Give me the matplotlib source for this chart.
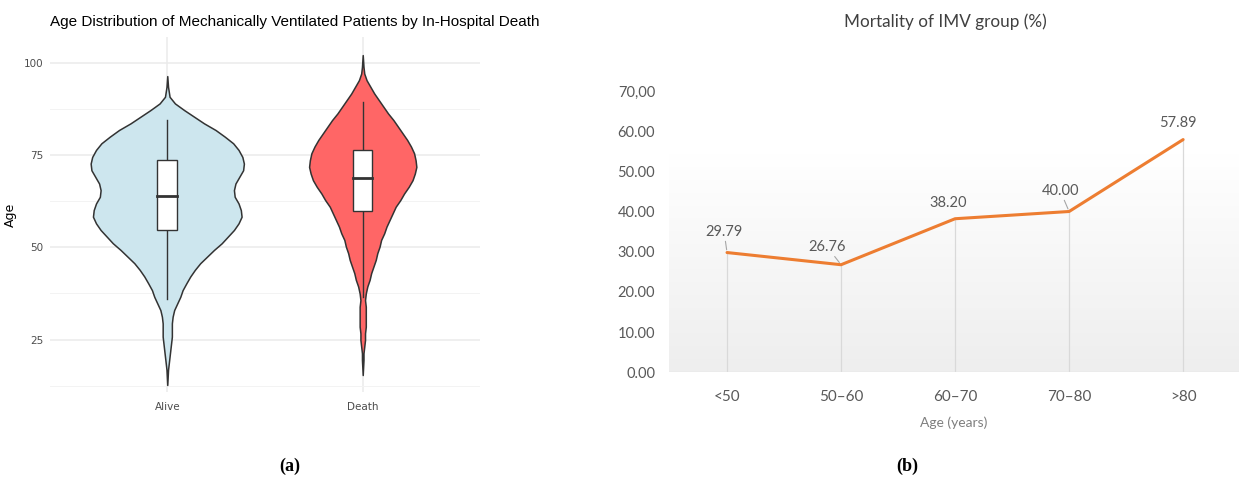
import numpy as np
import matplotlib.pyplot as plt
from matplotlib.patches import Rectangle
from matplotlib.colors import LinearSegmentedColormap

# ---- panel (a): violin outlines ----
groups = ['Alive', 'Death']

alive_age = [96.4, 93.5, 90.8, 89.0, 87.2, 85.4, 83.6, 81.8, 80.0, 78.2, 76.4, 74.5,
             72.7, 70.9, 69.1, 67.3, 65.5, 63.7, 61.9, 60.1, 58.3, 56.5, 54.7, 52.9,
             51.1, 49.3, 47.5, 45.7, 43.9, 42.1, 40.3, 38.4, 36.6, 34.8, 33.0, 31.2,
             29.4, 27.6, 25.8, 24.0, 22.2, 20.4, 18.6, 16.8, 12.7]
alive_dens = [0.00, 0.01, 0.03, 0.10, 0.22, 0.35, 0.48, 0.63, 0.75, 0.86, 0.93, 0.98,
              1.00, 0.99, 0.94, 0.89, 0.87, 0.88, 0.93, 0.96, 0.97, 0.93, 0.87, 0.79,
              0.71, 0.61, 0.52, 0.43, 0.36, 0.30, 0.25, 0.20, 0.17, 0.13, 0.09, 0.07,
              0.06, 0.06, 0.06, 0.05, 0.04, 0.03, 0.02, 0.01, 0.00]

death_age = [102.1, 98.9, 97.1, 95.3, 93.5, 91.7, 89.9, 88.1, 86.3, 84.5, 82.7, 80.9,
             79.1, 77.3, 75.5, 73.6, 71.8, 70.0, 68.2, 66.4, 64.6, 62.8, 61.0, 59.2,
             57.4, 55.6, 53.8, 52.0, 50.2, 48.4, 46.6, 44.8, 43.0, 41.2, 39.4, 37.5,
             35.7, 33.9, 32.1, 30.3, 28.5, 26.7, 24.9, 23.1, 21.3, 19.5, 15.4]
death_dens = [0.00, 0.01, 0.02, 0.05, 0.10, 0.15, 0.21, 0.27, 0.33, 0.40, 0.46, 0.52,
              0.58, 0.63, 0.67, 0.69, 0.70, 0.68, 0.65, 0.60, 0.54, 0.49, 0.43, 0.39,
              0.35, 0.31, 0.28, 0.24, 0.22, 0.19, 0.17, 0.14, 0.11, 0.09, 0.06, 0.04,
              0.03, 0.04, 0.04, 0.04, 0.04, 0.03, 0.03, 0.02, 0.01, 0.01, 0.00]

# q1, median, q3, lower whisker, upper whisker
alive_box = [54.7, 63.9, 73.6, 35.9, 84.5]
death_box = [59.8, 68.9, 76.4, 36.6, 89.4]

# ---- panel (b): mortality by age group ----
age_groups = ['<50', '50\u201360', '60\u201370', '70\u201380', '>80']
mortality = [29.79, 26.76, 38.20, 40.00, 57.89]
ytick_vals = [0, 10, 20, 30, 40, 50, 60, 70]
ytick_labels = ['0.00', '10.00', '20.00', '30.00', '40.00', '50.00', '60.00', '70,00']

W, H = 1239, 478
fig = plt.figure(figsize=(W / 100, H / 100), dpi=100)


def fx(px):
    return px / W


def fy(py):
    return 1 - py / H


# ---------------- (a) ----------------
ax = fig.add_axes([fx(50), fy(392), fx(430), (392 - 37) / H])
ax.set_xlim(0.4, 2.6)
ax.set_ylim(10.8, 107)

def violin(pos, ages, dens, color, box):
    w = np.array(dens) * 0.392
    ax.fill_betweenx(ages, pos - w, pos + w, facecolor=color, edgecolor='#333333',
                     lw=1.1, zorder=2)
    q1, med, q3, lo, hi = box
    ax.plot([pos, pos], [lo, q1], color='#333333', lw=1.0, zorder=3)
    ax.plot([pos, pos], [q3, hi], color='#333333', lw=1.0, zorder=3)
    ax.add_patch(Rectangle((pos - 0.05, q1), 0.1, q3 - q1, facecolor='white',
                           edgecolor='#333333', lw=1.0, zorder=3))
    ax.plot([pos - 0.05, pos + 0.05], [med, med], color='#333333', lw=2.0, zorder=4)

violin(1, alive_age, alive_dens, '#cde6ee', alive_box)
violin(2, death_age, death_dens, '#ff6666', death_box)

ax.set_xticks([1, 2], groups)
ax.set_yticks([25, 50, 75, 100])
ax.set_yticks([12.5, 37.5, 62.5, 87.5], minor=True)
ax.grid(which='major', color='#ebebeb', lw=1.1, zorder=0)
ax.grid(which='minor', axis='y', color='#f3f3f3', lw=0.7, zorder=0)
ax.set_axisbelow(True)
for s in ax.spines.values():
    s.set_visible(False)
ax.tick_params(which='both', length=0)
ax.tick_params(axis='y', pad=5, labelsize=7.5, labelcolor='#4d4d4d')
ax.tick_params(axis='x', pad=7, labelsize=7.5, labelcolor='#4d4d4d')
ax.set_ylabel('Age', fontsize=9)
ax.yaxis.set_label_coords(-33 / 430, 0.5)
fig.text(fx(50), fy(22), 'Age Distribution of Mechanically Ventilated Patients by In-Hospital Death',
         ha='left', va='center', fontsize=11, family='Liberation Sans')

# ---------------- (b) ----------------
lato = 'Lato'
ax2 = fig.add_axes([fx(669), fy(372.3), 1 - fx(669), (372.3 - 90.9) / H])
x = np.arange(len(age_groups))
xl = (-0.509, 4.49)

cmap = LinearSegmentedColormap.from_list('bg', ['#eeeeee', '#ffffff'])
ax2.imshow(np.linspace(0, 1, 256).reshape(-1, 1), cmap=cmap, origin='lower',
           extent=(xl[0], xl[1], 0, 54), aspect='auto', zorder=0)
ax2.vlines(x, 0, mortality, color='#d9d9d9', lw=0.9, zorder=1)
ax2.plot(x, mortality, color='#ed7d31', lw=2.2, zorder=3, solid_capstyle='round')

offsets = [(-3, 21), (-14, 18), (-7, 16), (-9, 21), (-5, 17)]
leaders = [True, True, False, True, False]
for xi, v, off, lead in zip(x, mortality, offsets, leaders):
    props = dict(arrowstyle='-', color='#a6a6a6', lw=0.8, shrinkA=0, shrinkB=2) if lead else None
    ax2.annotate(f'{v:.2f}', xy=(xi, v), xytext=off, textcoords='offset pixels',
                 ha='center', va='center', fontsize=10.5, color='#595959', family=lato,
                 arrowprops=props, zorder=4)

ax2.set_xlim(*xl)
ax2.set_ylim(0, 70)
ax2.set_xticks(x, age_groups)
ax2.set_yticks(ytick_vals, ytick_labels)
for s in ax2.spines.values():
    s.set_visible(False)
ax2.axhline(0, color='#e3e3e3', lw=1.0, zorder=1)
ax2.tick_params(length=0)
ax2.tick_params(axis='y', pad=10, labelsize=10.5, labelcolor='#595959')
ax2.tick_params(axis='x', pad=13, labelsize=11, labelcolor='#595959')
for lab in ax2.get_xticklabels() + ax2.get_yticklabels():
    lab.set_family(lato)
ax2.set_xlabel('Age (years)', fontsize=10, color='#7f7f7f', family=lato, labelpad=9)
fig.text(fx(945), fy(22), 'Mortality of IMV group (%)', ha='center', va='center',
         fontsize=12.3, color='#404040', family=lato)

# panel letters
fig.text(fx(290), fy(466), '(a)', ha='center', va='center', fontsize=13,
         fontweight='bold', family='Liberation Serif')
fig.text(fx(907), fy(466), '(b)', ha='center', va='center', fontsize=13,
         fontweight='bold', family='Liberation Serif')

fig.savefig('out.png', dpi=100)
